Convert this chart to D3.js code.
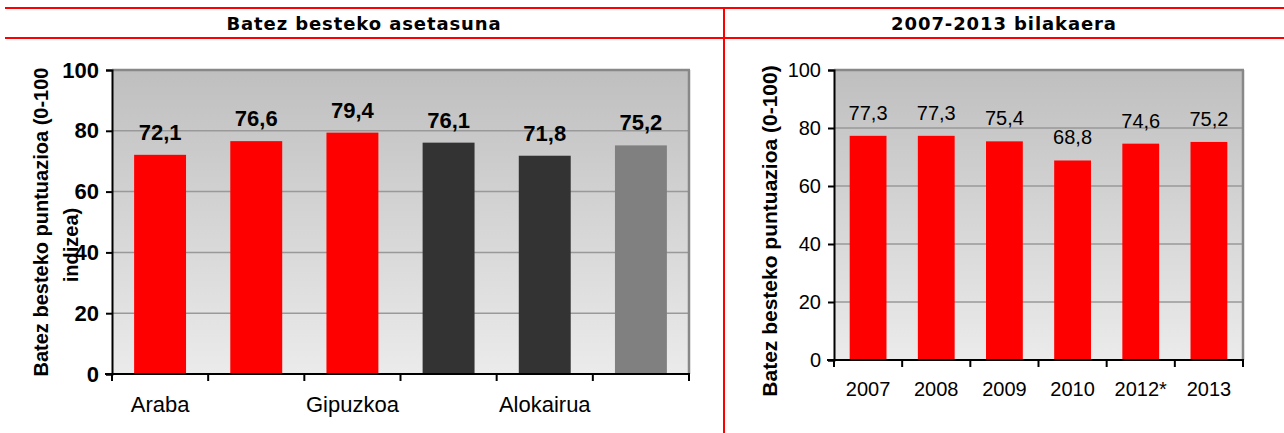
<!DOCTYPE html>
<html>
<head>
<meta charset="utf-8">
<script src="https://cdn.jsdelivr.net/npm/d3@7"></script>
<style>
  body { margin: 0; background: #fff; }
  svg { display: block; font-family: Arial, "Liberation Sans", sans-serif; }
</style>
</head>
<body>
<div id="chart"></div>
<script>
// ---------------------------------------------------------------
//  Data
// ---------------------------------------------------------------
// left chart: average satisfaction by territory / tenure
let leftCategories = ["Araba", "Bizkaia", "Gipuzkoa", "Jabetza", "Alokairua", "EAE"];
let leftTickLabels = ["Araba", "", "Gipuzkoa", "", "Alokairua", ""]; // only every other label shows
let leftValues = [72.1, 76.6, 79.4, 76.1, 71.8, 75.2];
let leftColors = ["#ff0000", "#ff0000", "#ff0000", "#333333", "#333333", "#808080"];

// right chart: evolution 2007-2013
let years = ["2007", "2008", "2009", "2010", "2012*", "2013"];
let yearValues = [77.3, 77.3, 75.4, 68.8, 74.6, 75.2];

let yTicks = [0, 20, 40, 60, 80, 100];

const width = 1284, height = 433;
const FONT = "Arial, 'Liberation Sans', sans-serif";

const svg = d3.select("#chart").append("svg")
    .attr("width", width)
    .attr("height", height);

// gradient for plot backgrounds
const defs = svg.append("defs");
const grad = defs.append("linearGradient")
    .attr("id", "bg").attr("x1", 0).attr("y1", 0).attr("x2", 0).attr("y2", 1);
grad.append("stop").attr("offset", "0%").attr("stop-color", "#bfbfbf");
grad.append("stop").attr("offset", "100%").attr("stop-color", "#ebebeb");

// ---------------------------------------------------------------
//  frame (red table lines + titles)
// ---------------------------------------------------------------
const red = "#ff0000";
svg.append("line").attr("x1", 5).attr("x2", width).attr("y1", 8).attr("y2", 8)
    .attr("stroke", red).attr("stroke-width", 2);
svg.append("line").attr("x1", 5).attr("x2", width).attr("y1", 38).attr("y2", 38)
    .attr("stroke", red).attr("stroke-width", 2);
svg.append("line").attr("x1", 724).attr("x2", 724).attr("y1", 8).attr("y2", height)
    .attr("stroke", red).attr("stroke-width", 2);

svg.append("text").attr("x", 364).attr("y", 30).attr("text-anchor", "middle")
    .attr("font-family", "'DejaVu Sans', Verdana, sans-serif")
    .attr("font-size", 18).attr("font-weight", "bold").attr("letter-spacing", 0.9)
    .text("Batez besteko asetasuna");
svg.append("text").attr("x", 1004).attr("y", 30).attr("text-anchor", "middle")
    .attr("font-family", "'DejaVu Sans', Verdana, sans-serif")
    .attr("font-size", 18).attr("font-weight", "bold").attr("letter-spacing", 0.9)
    .text("2007-2013 bilakaera");

// ---------------------------------------------------------------
//  generic bar chart
// ---------------------------------------------------------------
function drawChart(opts) {
    const { left, right, top, bottom, cats, tickLabels, values, colors, bold, labelGap, xPad, fs } = opts;

    const x = d3.scaleBand().domain(cats).range([left, right]).paddingInner(0).paddingOuter(0);
    const y = d3.scaleLinear().domain([0, 100]).range([bottom, top]);
    const barW = x.bandwidth() * 0.54;

    const g = svg.append("g");

    // background + borders
    g.append("rect").attr("x", left).attr("y", top)
        .attr("width", right - left).attr("height", bottom - top)
        .attr("fill", "url(#bg)");

    // gridlines
    g.selectAll(".grid").data(yTicks.filter(d => d > 0 && d < 100)).enter()
        .append("line")
        .attr("x1", left).attr("x2", right)
        .attr("y1", d => y(d)).attr("y2", d => y(d))
        .attr("stroke", "#999").attr("stroke-width", 1.5);

    g.append("line").attr("x1", left).attr("x2", right + 1).attr("y1", top).attr("y2", top)
        .attr("stroke", "#888").attr("stroke-width", 2.5);
    g.append("line").attr("x1", right).attr("x2", right).attr("y1", top).attr("y2", bottom)
        .attr("stroke", "#888").attr("stroke-width", 2.5);

    // bars
    g.selectAll(".bar").data(values).enter()
        .append("rect")
        .attr("x", (d, i) => x(cats[i]) + (x.bandwidth() - barW) / 2)
        .attr("y", d => y(d))
        .attr("width", barW)
        .attr("height", d => bottom - y(d))
        .attr("fill", (d, i) => colors[i]);

    // value labels
    g.selectAll(".val").data(values).enter()
        .append("text")
        .attr("x", (d, i) => x(cats[i]) + x.bandwidth() / 2)
        .attr("y", d => y(d) - labelGap)
        .attr("text-anchor", "middle")
        .attr("font-size", fs)
        .attr("font-weight", bold ? "bold" : "normal")
        .text(d => d.toFixed(1).replace(".", ","));

    // y axis
    const yAxis = g.append("g")
        .attr("transform", `translate(${left},0)`)
        .call(d3.axisLeft(y).tickValues(yTicks).tickSize(6).tickPadding(7));
    yAxis.select(".domain").attr("stroke", "#000").attr("stroke-width", 2);
    yAxis.selectAll(".tick line").attr("stroke", "#000").attr("stroke-width", 2);
    yAxis.selectAll(".tick text")
        .attr("font-size", fs)
        .attr("font-weight", bold ? "bold" : "normal")
        .attr("font-family", FONT)
        .attr("fill", "#000");

    // x axis
    const xAxis = g.append("g")
        .attr("transform", `translate(0,${bottom})`)
        .call(d3.axisBottom(x).tickSize(0).tickPadding(xPad).tickFormat((d, i) => tickLabels[i]));
    xAxis.select(".domain").remove();
    xAxis.selectAll(".tick text")
        .attr("font-size", fs)
        .attr("font-family", FONT)
        .attr("fill", "#000");
    g.append("line").attr("x1", left - 7).attr("x2", right + 1).attr("y1", bottom).attr("y2", bottom)
        .attr("stroke", "#000").attr("stroke-width", 2);
    // tick marks on band boundaries
    const bounds = cats.map(c => x(c)).concat([right]);
    g.selectAll(".xt").data(bounds).enter()
        .append("line")
        .attr("x1", d => d).attr("x2", d => d)
        .attr("y1", bottom).attr("y2", bottom + 7)
        .attr("stroke", "#000").attr("stroke-width", 2);

    return { x, y };
}

// left chart
drawChart({
    left: 112, right: 689, top: 70, bottom: 374,
    cats: leftCategories, tickLabels: leftTickLabels,
    values: leftValues, colors: leftColors, bold: true, labelGap: 15, xPad: 22, fs: 22
});

// right chart
drawChart({
    left: 834, right: 1243, top: 70, bottom: 360,
    cats: years, tickLabels: years,
    values: yearValues, colors: years.map(() => "#ff0000"), bold: false, labelGap: 16, xPad: 22, fs: 20
});

// y axis titles
svg.append("text")
    .attr("transform", "translate(48,222) rotate(-90)")
    .attr("text-anchor", "middle")
    .attr("font-size", 20).attr("font-weight", "bold")
    .text("Batez besteko puntuazioa (0-100");
svg.append("text")
    .attr("transform", "translate(78,245) rotate(-90)")
    .attr("text-anchor", "middle")
    .attr("font-size", 20).attr("font-weight", "bold")
    .text("indizea)");

svg.append("text")
    .attr("transform", "translate(777,231) rotate(-90)")
    .attr("text-anchor", "middle")
    .attr("font-size", 21).attr("font-weight", "bold")
    .text("Batez besteko puntuazioa (0-100)");
</script>
</body>
</html>
